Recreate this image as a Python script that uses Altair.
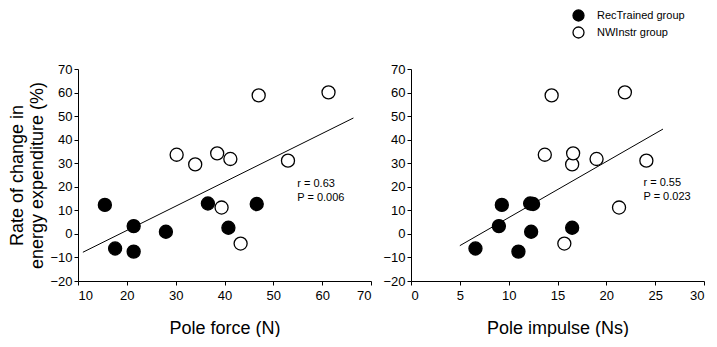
import altair as alt
import pandas as pd

groups = ["RecTrained group", "NWInstr group"]

# RecTrained group (filled)
energy_rec = [12.3, -6.2, 3.3, -7.5, 0.9, 12.9, 2.6, 12.7]
force_rec = [15.5, 17.6, 21.4, 21.4, 28.0, 36.6, 40.8, 46.6]
impulse_rec = [9.3, 6.6, 9.0, 11.0, 12.3, 12.2, 16.5, 12.5]

# NWInstr group (open)
energy_nw = [33.6, 29.5, 34.2, 31.8, 11.2, -4.1, 58.8, 60.1, 31.1]
force_nw = [30.2, 34.0, 38.5, 41.2, 39.4, 43.3, 47.0, 61.3, 53.0]
impulse_nw = [13.7, 16.5, 16.6, 19.0, 21.3, 15.7, 14.4, 21.9, 24.1]

# regression lines (end points)
force_line_x = [11.0, 66.4]
force_line_y = [-7.8, 49.2]
impulse_line_x = [5.0, 25.8]
impulse_line_y = [-5.0, 44.5]

force_ticks = [10, 20, 30, 40, 50, 60, 70]
impulse_ticks = [0, 5, 10, 15, 20, 25, 30]
energy_ticks = [-20, -10, 0, 10, 20, 30, 40, 50, 60, 70]

stats_force = ["r = 0.63", "P = 0.006"]
stats_impulse = ["r = 0.55", "P = 0.023"]

FONT = "Liberation Sans"

legend = alt.Legend(
    title=None, orient="none", legendX=494, legendY=-60,
    symbolType="circle", symbolSize=121, symbolStrokeColor="black",
    symbolStrokeWidth=1.3, labelFont=FONT, labelFontSize=11,
    labelColor="black", rowPadding=0, labelOffset=12, padding=0,
)


def panel(x_rec, x_nw, line_x, line_y, ticks, domain, xtitle, ytitle, stats, sx, sy):
    pts = pd.DataFrame({
        "x": x_nw + x_rec,
        "y": energy_nw + energy_rec,
        "group": [groups[1]] * len(x_nw) + [groups[0]] * len(x_rec),
    })
    lines = pd.DataFrame({"x": line_x, "y": line_y})
    xscale = alt.Scale(domain=domain, nice=False, zero=False)
    yscale = alt.Scale(domain=[-20, 70], nice=False, zero=False)
    xaxis = alt.Axis(values=ticks, title=xtitle, grid=False)
    yaxis = alt.Axis(values=energy_ticks, title=ytitle, grid=False)
    xe = alt.X("x:Q", scale=xscale, axis=xaxis)
    ye = alt.Y("y:Q", scale=yscale, axis=yaxis)

    line = alt.Chart(lines).mark_line(color="black", strokeWidth=1).encode(x=xe, y=ye)
    points = alt.Chart(pts).mark_circle(
        size=170, stroke="black", strokeWidth=1.3, opacity=1
    ).encode(
        x=xe, y=ye,
        fill=alt.Fill("group:N", scale=alt.Scale(domain=groups, range=["black", "white"]),
                      legend=legend),
    )
    text = alt.Chart(pd.DataFrame({"x": [sx], "y": [sy]})).mark_text(
        text=stats, align="left", baseline="middle", font=FONT, fontSize=11,
        lineHeight=14, color="black"
    ).encode(x=xe, y=ye)
    return alt.layer(line, points, text).properties(width=293, height=212)


left = panel(force_rec, force_nw, force_line_x, force_line_y, force_ticks, [10, 70],
             "Pole force (N)", ["Rate of change in", "energy expenditure (%)"],
             stats_force, 54.9, 21.3)
right = panel(impulse_rec, impulse_nw, impulse_line_x, impulse_line_y, impulse_ticks, [0, 30],
              "Pole impulse (Ns)", "", stats_impulse, 23.8, 21.6)

chart = alt.hconcat(left, right, spacing=10).properties(
    padding={"left": 0, "top": 1, "right": 0, "bottom": 0}
).configure_view(stroke=None).configure_axis(
    domainColor="black", tickColor="black", tickSize=4, labelFont=FONT,
    labelFontSize=13, labelColor="black", titleFont=FONT, titleFontSize=18,
    titleFontWeight="normal", titleColor="black",
).configure_axisX(labelPadding=4, titlePadding=17).configure_axisY(
    labelPadding=2, titlePadding=3, titleLineHeight=20)

chart.save("out.html", embed_options={"renderer": "svg", "actions": False})
